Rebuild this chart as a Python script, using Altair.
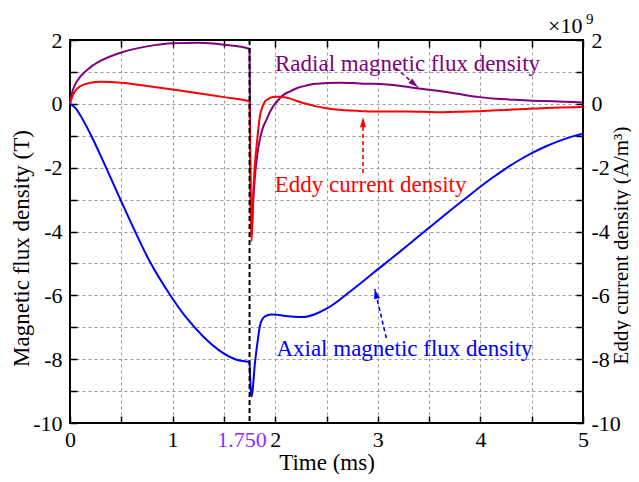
import altair as alt
import pandas as pd

# ---------------- data ----------------
radial_t = [0, 0.02, 0.05, 0.1, 0.2, 0.3, 0.5, 0.75, 1.0, 1.25, 1.5, 1.75,
            1.755, 1.762, 1.77, 1.78, 1.80, 1.825, 1.85, 1.88, 1.915, 1.95, 1.98,
            2.03, 2.08, 2.15, 2.21, 2.3, 2.37, 2.5, 2.63, 2.76, 2.89,
            3.02, 3.15, 3.27, 3.38, 3.5, 3.6, 3.73, 3.86, 3.99,
            4.12, 4.25, 4.38, 4.51, 4.64, 4.77, 4.9, 5.0]
radial_v = [0, 0.35, 0.6, 0.85, 1.15, 1.35, 1.61, 1.80, 1.90, 1.91, 1.85, 1.72,
            -1.0, -3.2, -4.0, -3.4, -2.38, -1.6, -1.13, -0.75, -0.5, -0.25, -0.08,
            0.12, 0.28, 0.4, 0.49, 0.57, 0.62, 0.65, 0.66, 0.65, 0.63,
            0.62, 0.59, 0.54, 0.49, 0.44, 0.40, 0.34, 0.27, 0.21,
            0.17, 0.14, 0.12, 0.10, 0.085, 0.07, 0.055, 0.045]

eddy_t = [0, 0.02, 0.05, 0.1, 0.2, 0.3, 0.5, 0.75, 1.0, 1.25, 1.5, 1.75,
          1.755, 1.762, 1.77, 1.785, 1.80, 1.818, 1.835, 1.85, 1.875, 1.9,
          1.93, 1.96, 2.0, 2.05, 2.14, 2.22, 2.3, 2.4, 2.5, 2.6,
          2.73, 2.85, 2.95, 3.1, 3.28, 3.45, 3.63, 3.8, 3.99,
          4.12, 4.25, 4.38, 4.51, 4.64, 4.77, 4.9, 5.0]
eddy_v = [0, 0.2, 0.4, 0.55, 0.66, 0.69, 0.66, 0.56, 0.45, 0.33, 0.21, 0.08,
          -1.5, -3.5, -4.3, -2.9, -2.0, -1.34, -0.8, -0.4, -0.1, 0.07,
          0.15, 0.2, 0.22, 0.22, 0.17, 0.08, 0.0, -0.08, -0.14, -0.18,
          -0.21, -0.23, -0.24, -0.24, -0.24, -0.25, -0.26, -0.25, -0.23,
          -0.21, -0.19, -0.17, -0.15, -0.13, -0.115, -0.105, -0.1]

axial_t = [0, 0.05, 0.097, 0.195, 0.325, 0.5, 0.649, 0.779, 0.974,
           1.136, 1.298, 1.493, 1.623, 1.75,
           1.755, 1.765, 1.772, 1.785, 1.80, 1.818, 1.835, 1.85, 1.875, 1.9,
           1.96, 2.02, 2.08, 2.18, 2.27, 2.38, 2.5, 2.62, 2.73, 2.86,
           2.99, 3.12, 3.25, 3.36, 3.47, 3.6, 3.73, 3.86, 3.99,
           4.12, 4.25, 4.38, 4.51, 4.64, 4.77, 4.9, 5.0]
axial_v = [0, -0.12, -0.34, -0.92, -1.81, -3.06, -4.10, -4.95, -5.98,
           -6.71, -7.29, -7.81, -8.02, -8.10,
           -8.5, -9.1, -9.16, -8.8, -8.2, -7.7, -7.3, -6.97, -6.75, -6.66,
           -6.6, -6.61, -6.64, -6.67, -6.68, -6.6, -6.42, -6.16, -5.88, -5.55,
           -5.21, -4.88, -4.54, -4.25, -3.96, -3.62, -3.28, -2.95, -2.62,
           -2.31, -2.02, -1.76, -1.53, -1.33, -1.16, -1.02, -0.94]

x_label_values = [0, 1, 2, 3, 4, 5]
x_minor_values = [0, 0.5, 1, 1.5, 2, 2.5, 3, 3.5, 4, 4.5, 5]
x_grid_values = [0.5, 1, 1.5, 2, 2.5, 3, 3.5, 4, 4.5]
y_tick_values = [-10, -9, -8, -7, -6, -5, -4, -3, -2, -1, 0, 1, 2]
y_grid_values = [-9, -8, -7, -6, -5, -4, -3, -2, -1, 0, 1]
marker_time = [1.75]

ann_text = ["Radial magnetic flux density", "Eddy current density",
            "Axial magnetic flux density"]
ann_t = [3.29, 2.93, 3.26]
ann_v = [1.04, -2.75, -7.91]
ann_color = ["#800080", "#ff0000", "#0000ff"]

arrow_t0 = [3.175, 2.856, 3.083]
arrow_v0 = [1.12, -2.17, -7.34]
arrow_t1 = [3.392, 2.856, 2.970]
arrow_v1 = [0.52, -0.42, -5.80]
arrow_angle = [130.4, 0.0, 346.6]
arrow_color = ["#800080", "#ff0000", "#0000ff"]

# ---------------- chart ----------------
FONT = "Liberation Serif"
xs = alt.Scale(domain=[0, 5], nice=False, zero=False)
ys = alt.Scale(domain=[-10, 2], nice=False, zero=False)

radial = pd.DataFrame({"t": radial_t, "v": radial_v})
eddy = pd.DataFrame({"t": eddy_t, "v": eddy_v})
axial = pd.DataFrame({"t": axial_t, "v": axial_v})
ann = pd.DataFrame({"t": ann_t, "v": ann_v, "label": ann_text, "color": ann_color})
arrows = pd.DataFrame({"t0": arrow_t0, "v0": arrow_v0, "t1": arrow_t1,
                       "v1": arrow_v1, "ang": arrow_angle, "color": arrow_color})

lab_even = "datum.value % 2 === 0 ? '' + datum.value : ''"
txt = dict(labelFont=FONT, titleFont=FONT, labelColor="black",
           titleColor="black", titleFontWeight="normal")

ax_x_main = alt.Axis(orient="bottom", values=x_label_values,
                     labelExpr="'' + datum.value", grid=False, ticks=False,
                     domain=False, labelFontSize=22, labelPadding=6,
                     labelFlush=False, labelOverlap=False,
                     title="Time (ms)", titleFontSize=23, titleY=46,
                     titleBaseline="alphabetic", **txt)
ax_y_main = alt.Axis(orient="left", values=y_tick_values, labelExpr=lab_even,
                     grid=False, ticks=False, domain=False, labelFontSize=22,
                     labelPadding=8, labelOverlap=False,
                     title="Magnetic flux density (T)", titleFontSize=23,
                     titleAngle=270, titleX=-49, titleY=208,
                     titleBaseline="middle", **txt)
tick_kw = dict(labels=False, grid=False, domain=False, tickSize=7,
               tickWidth=1.5, tickColor="black", offset=-7, title=None)
ax_x_tick_b = alt.Axis(orient="bottom", values=x_minor_values, **tick_kw)
ax_y_tick_l = alt.Axis(orient="left", values=y_tick_values, **tick_kw)
ax_x_tick_t = alt.Axis(orient="top", values=x_minor_values, **tick_kw)
ax_y_tick_r = alt.Axis(orient="right", values=y_tick_values, **tick_kw)
ax_x_marker = alt.Axis(orient="bottom", values=marker_time,
                       labelExpr="format(datum.value, '.3f')",
                       labelColor="#8f2bff", labelFont=FONT, ticks=False,
                       domain=False, grid=False, labelFontSize=22,
                       labelPadding=6, labelOffset=-8, labelFlush=False,
                       title=None)
ax_y_right = alt.Axis(orient="right", values=y_tick_values, labelExpr=lab_even,
                      grid=False, ticks=False, domain=False, labelFontSize=22,
                      labelPadding=8, labelOverlap=False,
                      title="Eddy current density (A/m³)", titleFontSize=21,
                      titleAngle=270, titleX=38, titleY=205,
                      titleBaseline="middle", **txt)
grid_kw = dict(labels=False, ticks=False, domain=False, grid=True,
               gridDash=[3, 3], gridColor="#9a9a9a", gridWidth=1, title=None)
ax_x_grid = alt.Axis(orient="bottom", values=x_grid_values, **grid_kw)
ax_y_grid = alt.Axis(orient="left", values=y_grid_values, **grid_kw)

line_kw = dict(strokeWidth=2, interpolate="monotone")

l_radial = alt.Chart(radial).mark_line(color="#800080", **line_kw).encode(
    x=alt.X("t:Q", scale=xs, axis=ax_x_main),
    y=alt.Y("v:Q", scale=ys, axis=ax_y_main))
l_eddy = alt.Chart(eddy).mark_line(color="#ff0000", **line_kw).encode(
    x=alt.X("t:Q", scale=xs, axis=ax_x_tick_b),
    y=alt.Y("v:Q", scale=ys, axis=ax_y_tick_l))
l_axial = alt.Chart(axial).mark_line(color="#0000ff", **line_kw).encode(
    x=alt.X("t:Q", scale=xs, axis=ax_x_tick_t),
    y=alt.Y("v:Q", scale=ys, axis=ax_y_tick_r))
vline = alt.Chart(pd.DataFrame({"t": marker_time})).mark_rule(
    color="black", strokeDash=[5, 3], strokeWidth=2).encode(
    x=alt.X("t:Q", scale=xs, axis=ax_x_marker))
texts = alt.Chart(ann).mark_text(font=FONT, fontSize=23, align="center",
                                 baseline="alphabetic").encode(
    x=alt.X("t:Q", scale=xs, axis=None),
    y=alt.Y("v:Q", scale=ys, axis=ax_y_right),
    text="label:N",
    color=alt.Color("color:N", scale=None))
shafts = alt.Chart(arrows).mark_rule(strokeDash=[4, 3], strokeWidth=1.6).encode(
    x=alt.X("t0:Q", scale=xs, axis=ax_x_grid),
    y=alt.Y("v0:Q", scale=ys, axis=ax_y_grid),
    x2="t1:Q", y2="v1:Q",
    color=alt.Color("color:N", scale=None))
heads = alt.Chart(arrows).mark_point(shape="M0,0L0.6,2L-0.6,2Z", filled=True,
                                     size=100, opacity=1).encode(
    x=alt.X("t1:Q", scale=xs, axis=None),
    y=alt.Y("v1:Q", scale=ys, axis=None),
    angle=alt.Angle("ang:Q", scale=None),
    color=alt.Color("color:N", scale=None))
exp_base = alt.Chart(pd.DataFrame({"s": ["×10"]})).mark_text(
    font=FONT, fontSize=22, align="left", baseline="alphabetic",
    color="black").encode(text="s:N", x=alt.value(478), y=alt.value(-7))
exp_sup = alt.Chart(pd.DataFrame({"s": ["9"]})).mark_text(
    font=FONT, fontSize=15, align="left", baseline="alphabetic",
    color="black").encode(text="s:N", x=alt.value(516), y=alt.value(-16))

chart = alt.layer(l_radial, l_eddy, l_axial, vline, texts, shafts, heads,
                  exp_base, exp_sup).resolve_axis(
    x="independent", y="independent"
).properties(
    width=513, height=383,
    padding={"left": 62, "top": 32, "right": 48, "bottom": 51},
    autosize=alt.AutoSizeParams(type="none"),
    background="white",
).configure_view(
    stroke="black", strokeWidth=2
)

chart.save("out.html", embed_options={"renderer": "svg", "actions": False})
